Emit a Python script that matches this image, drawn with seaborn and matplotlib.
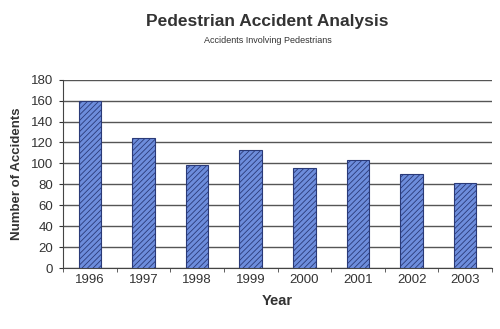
import matplotlib
matplotlib.use("Agg")
import matplotlib.pyplot as plt
import seaborn as sns
import pandas as pd
from matplotlib.ticker import FixedLocator

years = ["1996", "1997", "1998", "1999", "2000", "2001", "2002", "2003"]
accidents = [160, 124, 98, 113, 96, 103, 90, 81]
yticks = [0, 20, 40, 60, 80, 100, 120, 140, 160, 180]

df = pd.DataFrame({"Year": years, "Accidents": accidents})

sns.set_style("white")
plt.rcParams['font.family'] = ['Liberation Sans', 'DejaVu Sans']
plt.rcParams['hatch.color'] = '#a8c0f0'
plt.rcParams['hatch.linewidth'] = 0.6

fig = plt.figure(figsize=(5.0, 3.29), dpi=100)
ax = fig.add_axes([0.126, 0.185, 0.858, 0.573])

sns.barplot(data=df, x="Year", y="Accidents", color="#6d8ddc", width=0.42,
            edgecolor="#2a3a78", linewidth=0.8, hatch="//////", ax=ax,
            saturation=1, zorder=3)

ax.set_ylim(0, 180)
ax.set_yticks(yticks)
ax.set_xlim(-0.5, len(years) - 0.5)
ax.xaxis.set_minor_locator(FixedLocator([i + 0.5 for i in range(-1, len(years))]))
ax.yaxis.grid(True, color="#555555", linewidth=1.0, zorder=0)
ax.set_axisbelow(True)
for s in ["top", "right"]:
    ax.spines[s].set_visible(False)
ax.spines["left"].set_color("#444444")
ax.spines["bottom"].set_color("#444444")
ax.tick_params(axis="both", labelsize=9.5, colors="#333333", length=0, pad=4)
ax.tick_params(axis="y", length=3, direction="out", left=True)
ax.tick_params(axis="x", which="minor", length=3, direction="out", bottom=True, color="#444444")

ax.set_xlabel("Year", fontsize=10.5, fontweight="bold", color="#333333", labelpad=6)
ax.set_ylabel("Number of Accidents", fontsize=9.5, fontweight="bold", color="#333333", labelpad=6)

fig.text(0.535, 0.935, "Pedestrian Accident Analysis", ha="center", va="center",
         fontsize=12.5, fontweight="bold", color="#333333")
fig.text(0.535, 0.878, "Accidents Involving Pedestrians", ha="center", va="center",
         fontsize=6.5, color="#333333")

fig.savefig("out.png", dpi=100, facecolor="white")
